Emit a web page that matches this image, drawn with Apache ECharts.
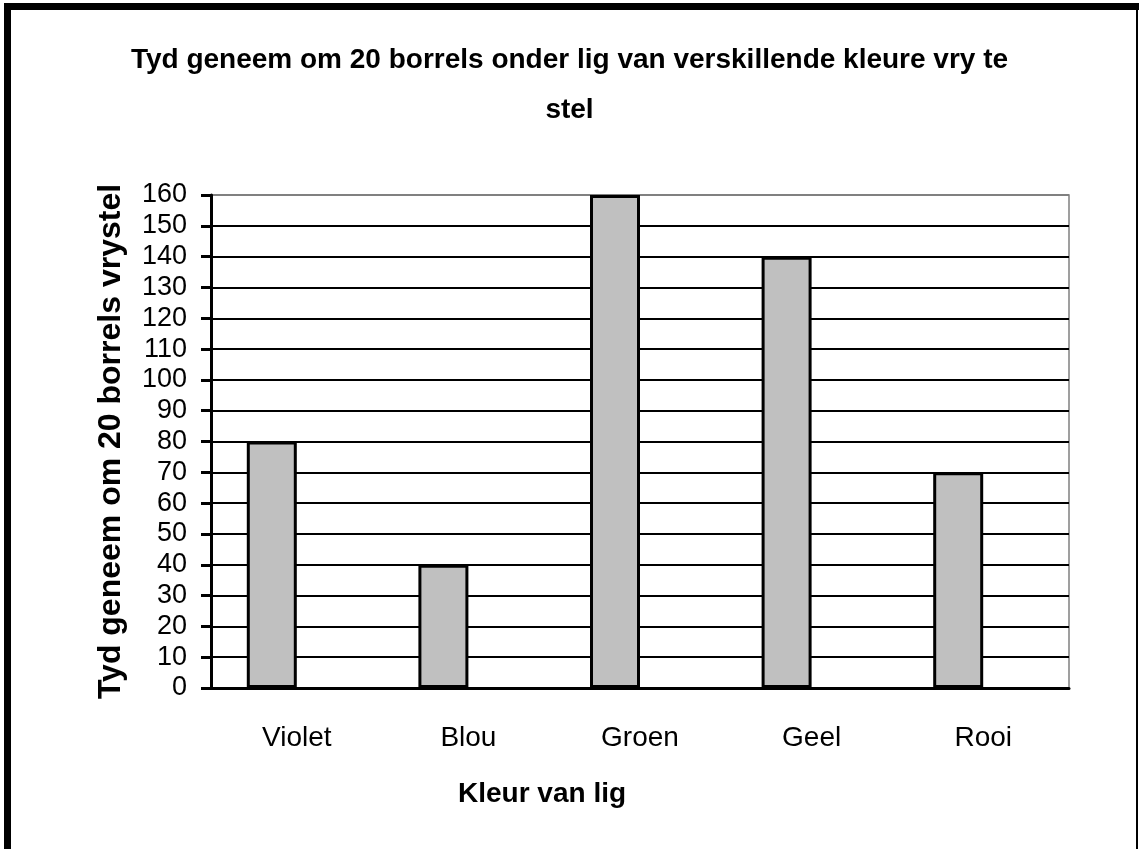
<!DOCTYPE html>
<html>
<head>
<meta charset="utf-8">
<script src="https://cdn.jsdelivr.net/npm/echarts@6/dist/echarts.min.js"></script>
<style>
  html, body { margin: 0; padding: 0; background: #fff; }
  #main { width: 1139px; height: 849px; }
</style>
</head>
<body>
<div id="main"></div>
<script>
// 数据
let categories = ['Violet', 'Blou', 'Groen', 'Geel', 'Rooi'];
let times = [80, 40, 160, 140, 70];

let chartDom = document.getElementById('main');
let myChart = echarts.init(chartDom);
let option;

let font = 'Liberation Sans, Arial, sans-serif';

// 网格线颜色：最上面一条是灰色
let splitColors = [];
for (let i = 0; i < 16; i++) splitColors.push('#000');
splitColors.push('#808080');

option = {
  backgroundColor: '#fff',
  animation: false,
  title: {
    left: 'center',
    top: 30,
    text: 'Tyd geneem om 20 borrels onder lig van verskillende kleure vry te\nstel',
    textStyle: {
      fontFamily: font,
      fontSize: 28,
      fontWeight: 'bold',
      color: '#000',
      lineHeight: 50
    }
  },
  grid: {
    left: 211,
    top: 195,
    right: 70,
    bottom: 161,
    show: true,
    borderColor: '#808080',
    borderWidth: 1.5
  },
  xAxis: {
    type: 'category',
    data: categories,
    axisLine: { lineStyle: { color: '#000', width: 3 } },
    axisTick: { length: 12, lineStyle: { color: '#000', width: 3 } },
    axisLabel: {
      margin: 36,
      fontFamily: font,
      fontSize: 28,
      color: '#000'
    }
  },
  yAxis: {
    type: 'value',
    min: 0,
    max: 160,
    interval: 10,
    name: 'Tyd geneem om 20 borrels vrystel',
    nameLocation: 'middle',
    nameGap: 84,
    nameTextStyle: {
      fontFamily: font,
      fontSize: 32,
      fontWeight: 'bold',
      color: '#000'
    },
    axisLine: { show: true, lineStyle: { color: '#000', width: 3 } },
    axisTick: { show: true, length: 10, lineStyle: { color: '#000', width: 3 } },
    axisLabel: {
      margin: 24,
      fontFamily: font,
      fontSize: 27,
      color: '#000'
    },
    splitLine: { lineStyle: { color: splitColors, width: 2 } }
  },
  graphic: [
    // x轴名称
    {
      type: 'text',
      left: 458,
      top: 780,
      style: {
        text: 'Kleur van lig',
        fontFamily: font,
        fontSize: 28,
        fontWeight: 'bold',
        fill: '#000'
      }
    },
    // 外框
    { type: 'rect', shape: { x: 4, y: 3, width: 1135, height: 7 }, style: { fill: '#000' } },
    { type: 'rect', shape: { x: 4, y: 3, width: 7, height: 846 }, style: { fill: '#000' } },
    { type: 'rect', shape: { x: 1136, y: 3, width: 2, height: 846 }, style: { fill: '#000' } }
  ],
  series: [
    {
      name: 'Tyd',
      type: 'bar',
      barWidth: 50,
      barGap: '0%',
      itemStyle: {
        color: '#c0c0c0',
        borderColor: '#000',
        borderWidth: 3
      },
      data: times
    },
    {
      // 空系列，占据每组右半边
      name: 'leeg',
      type: 'bar',
      barWidth: 50,
      data: []
    }
  ]
};

option && myChart.setOption(option);
</script>
</body>
</html>
